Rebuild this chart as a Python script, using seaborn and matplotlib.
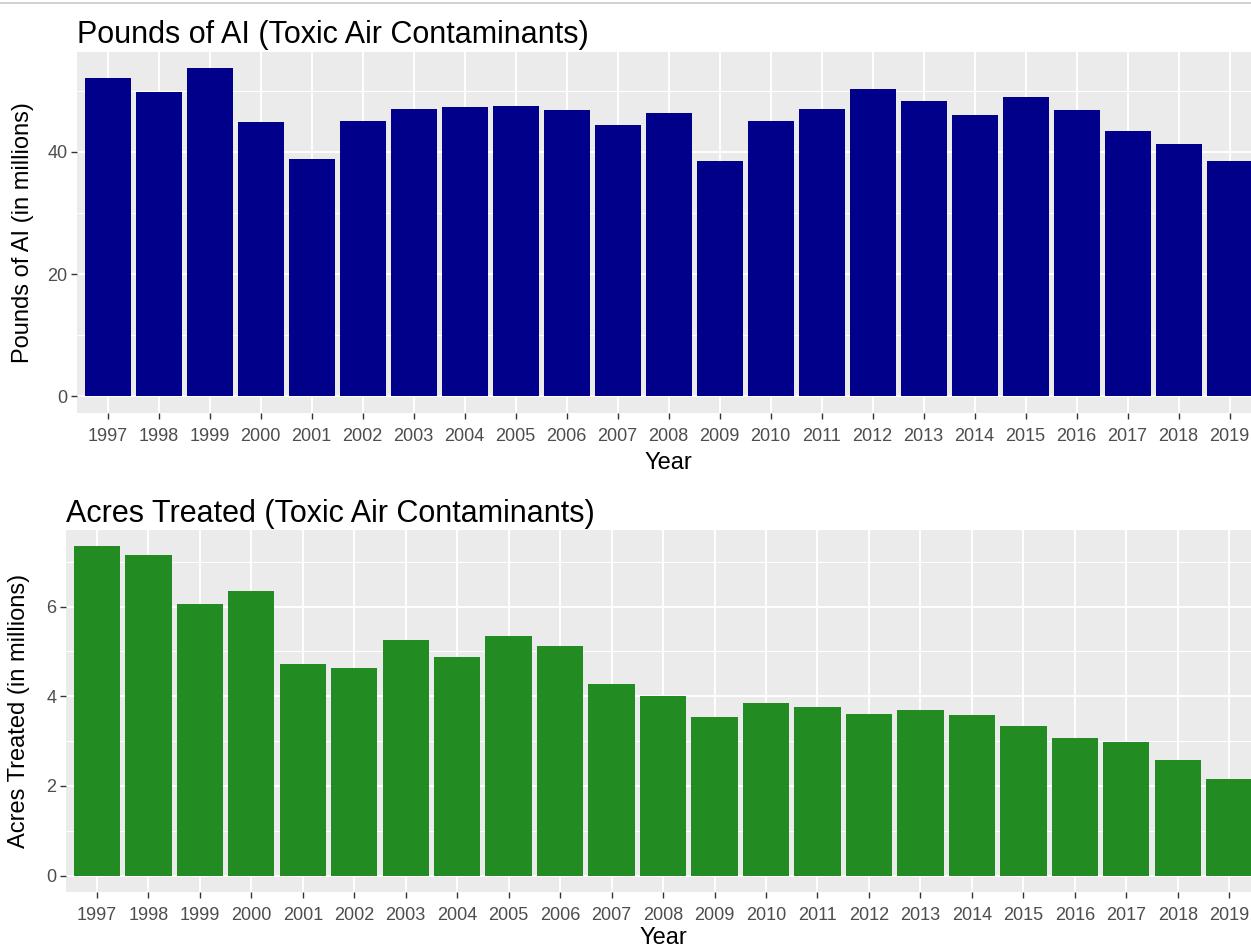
import matplotlib
matplotlib.use("Agg")
import matplotlib.pyplot as plt
from matplotlib.lines import Line2D
from matplotlib.ticker import MultipleLocator
import seaborn as sns
import pandas as pd

sns.set_theme(style="darkgrid")
plt.rcParams["font.family"] = ["Liberation Sans", "DejaVu Sans"]

years = [str(y) for y in range(1997, 2020)]
pounds_ai = [52.1, 49.8, 53.7, 44.9, 38.9, 45.1, 47.0, 47.3, 47.5, 46.9, 44.4, 46.4,
             38.5, 45.1, 47.0, 50.3, 48.3, 46.0, 49.0, 46.9, 43.4, 41.3, 38.5]
acres_treated = [7.34, 7.16, 6.05, 6.34, 4.72, 4.64, 5.25, 4.87, 5.35, 5.12, 4.27, 4.00,
                 3.54, 3.85, 3.76, 3.61, 3.69, 3.59, 3.34, 3.07, 2.98, 2.57, 2.15]

df = pd.DataFrame({"Year": years, "Pounds": pounds_ai, "Acres": acres_treated})

W, H = 1251, 949
fig = plt.figure(figsize=(W / 100, H / 100), dpi=100)


def panel(rect, col, color, title, ylabel, major, ylabel_x, xlabelpad):
    ax = fig.add_axes(rect)
    sns.barplot(data=df, x="Year", y=col, color=color, saturation=1,
                width=0.9, edgecolor="none", ax=ax)
    ymax = df[col].max()
    ax.set_ylim(-0.05 * ymax, 1.05 * ymax)
    ax.set_xlim(-0.6, len(years) - 0.4)
    ax.set_facecolor("#EBEBEB")
    ax.yaxis.set_major_locator(MultipleLocator(major))
    ax.yaxis.set_minor_locator(MultipleLocator(major / 2))
    ax.grid(which="major", color="white", linewidth=1.4)
    ax.grid(which="minor", axis="y", color="white", linewidth=0.7)
    ax.set_axisbelow(True)
    for s in ax.spines.values():
        s.set_visible(False)
    ax.tick_params(axis="x", which="major", length=4, width=1.0, color="#333333",
                   labelsize=13, labelcolor="#4D4D4D", pad=7, bottom=True)
    ax.tick_params(axis="y", which="major", length=4, width=1.0, color="#333333",
                   labelsize=13, labelcolor="#4D4D4D", pad=3, left=True)
    ax.tick_params(axis="y", which="minor", length=0)
    ax.set_title(title, loc="left", fontsize=22, pad=6, color="black")
    ax.set_xlabel("Year", fontsize=17, labelpad=xlabelpad, color="black")
    ax.set_ylabel(ylabel, fontsize=17, color="black")
    ax.yaxis.set_label_coords(ylabel_x, 0.5)
    return ax


panel([77 / W, 1 - 412.7 / H, 1183.2 / W, 361 / H], "Pounds", "#00008B",
      "Pounds of AI (Toxic Air Contaminants)", "Pounds of AI (in millions)", 20, -0.036, 5)
panel([66 / W, 1 - 892 / H, 1194.1 / W, 362 / H], "Acres", "#228B22",
      "Acres Treated (Toxic Air Contaminants)", "Acres Treated (in millions)", 2, -0.030, 2)

fig.add_artist(Line2D([0, 1], [1 - 3 / H, 1 - 3 / H], color="#C8C8C8", linewidth=1.2))

fig.savefig("out.png", dpi=100)
